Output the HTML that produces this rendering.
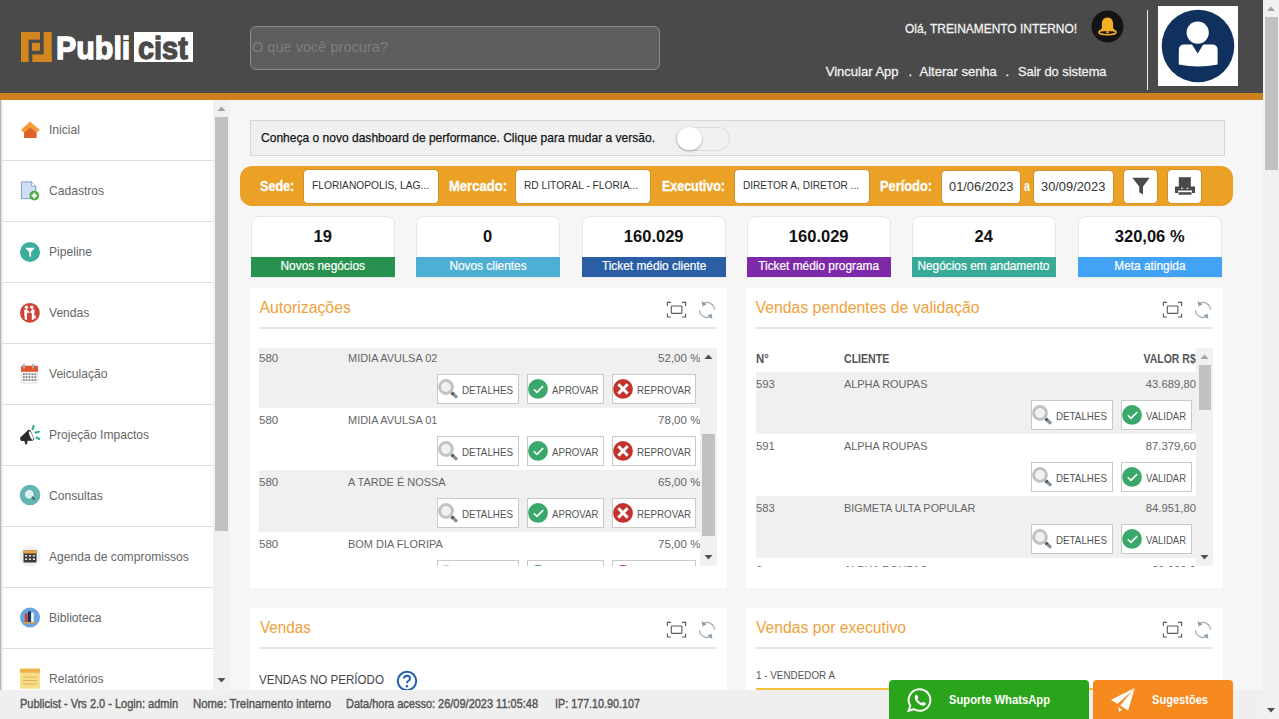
<!DOCTYPE html>
<html><head><meta charset="utf-8"><title>Publicist</title>
<style>
html,body{margin:0;padding:0;}
body{width:1279px;height:719px;overflow:hidden;position:relative;background:#f6f6f6;font-family:'Liberation Sans', sans-serif;}
.t{position:absolute;white-space:nowrap;}
svg{display:block;}
</style></head><body>
<div style="position:absolute;left:0px;top:0px;width:1263px;height:93px;background:#4a4a4a;"></div><div style="position:absolute;left:0px;top:93px;width:1263px;height:7px;background:#ce801e;"></div><svg style="position:absolute;left:21px;top:32px;" width="31" height="30" viewBox="0 0 31 30"><g fill="#d5871f">
<rect x="0" y="0" width="19" height="7.6"/><rect x="0" y="0" width="7.6" height="30"/>
<rect x="11" y="10.8" width="8" height="7.9"/>
<rect x="22.7" y="0" width="8" height="30"/><rect x="11.3" y="22.5" width="19.4" height="7.5"/></g></svg><div class="t" style="left:56.20px;top:27.90px;font-size:32px;line-height:40px;color:#ffffff;font-weight:700;transform:scaleX(0.9499);transform-origin:left center;-webkit-text-stroke:1.3px #ffffff;">Publi</div><div style="position:absolute;left:134px;top:32px;width:59px;height:30px;background:#ffffff;"></div><div class="t" style="left:138.30px;top:27.90px;font-size:32px;line-height:40px;color:#4a4a4a;font-weight:700;transform:scaleX(0.9031);transform-origin:left center;-webkit-text-stroke:1.3px #4a4a4a;">cist</div><div style="position:absolute;left:250px;top:26px;width:408px;height:42px;background:#5e5e5e;border:1px solid #8c8c8c;border-radius:6px;"></div><div class="t" style="left:252.00px;top:37.32px;font-size:15.5px;line-height:19px;color:#7c7c7c;transform:scaleX(0.9394);transform-origin:left center;">O que você procura?</div><div class="t" style="left:904.60px;top:21.12px;font-size:13.2px;line-height:16px;color:#f2f2f2;transform:scaleX(0.9051);transform-origin:left center;-webkit-text-stroke:0.3px #f2f2f2;">Olá, TREINAMENTO INTERNO!</div><svg style="position:absolute;left:1091px;top:10px;" width="33" height="33" viewBox="0 0 33 33"><circle cx="16.5" cy="16.5" r="16" fill="#141414"/>
<path d="M16.5 7.5c-3.6 0-5.6 2.8-5.6 6.2v4.3l-2.4 3.2h16l-2.4-3.2v-4.3c0-3.4-2-6.2-5.6-6.2z" fill="#f4b021"/>
<ellipse cx="16.5" cy="22.3" rx="8.6" ry="2.4" fill="none" stroke="#f4b021" stroke-width="1.6"/>
<circle cx="16.5" cy="22.3" r="1.2" fill="#f4b021"/></svg><div class="t" style="left:825.80px;top:64.49px;font-size:13px;line-height:16px;color:#f0f0f0;-webkit-text-stroke:0.3px #f0f0f0;">Vincular App</div><div class="t" style="left:908.50px;top:64.49px;font-size:13px;line-height:16px;color:#f0f0f0;-webkit-text-stroke:0.3px #f0f0f0;">.</div><div class="t" style="left:919.50px;top:64.49px;font-size:13px;line-height:16px;color:#f0f0f0;-webkit-text-stroke:0.3px #f0f0f0;">Alterar senha</div><div class="t" style="left:1005.50px;top:64.49px;font-size:13px;line-height:16px;color:#f0f0f0;-webkit-text-stroke:0.3px #f0f0f0;">.</div><div class="t" style="left:1017.50px;top:64.49px;font-size:13px;line-height:16px;color:#f0f0f0;transform:scaleX(0.9878);transform-origin:left center;-webkit-text-stroke:0.3px #f0f0f0;">Sair do sistema</div><div style="position:absolute;left:1146.8px;top:10px;width:1.5px;height:80px;background:#e8e8e8;"></div><div style="position:absolute;left:1158px;top:6px;width:80px;height:80px;background:#ffffff;"></div><svg style="position:absolute;left:1158px;top:6px;" width="80" height="80" viewBox="0 0 80 80"><circle cx="40" cy="40" r="36.3" fill="#10305e"/>
<circle cx="39.7" cy="26.6" r="11.1" fill="#fff"/>
<path d="M20.8 44 Q20.8 38.5 26.3 38.5 H34 L39.7 47.5 L45.3 38.5 H54.1 Q59.6 38.5 59.6 44 V58.6 Q40 62.6 20.8 58.6 z" fill="#fff"/></svg><div style="position:absolute;left:1263px;top:0px;width:16px;height:719px;background:#f1f1f1;"></div><div style="position:absolute;left:1265px;top:17px;width:13px;height:153px;background:#c1c1c1;"></div><svg style="position:absolute;left:1263px;top:0px;" width="16" height="17" viewBox="0 0 16 17"><path d="M4 11 L8 6.5 L12 11 z" fill="#a3a3a3"/></svg><svg style="position:absolute;left:1263px;top:702px;" width="16" height="17" viewBox="0 0 16 17"><path d="M4 6 L8 10.5 L12 6 z" fill="#505050"/></svg><div style="position:absolute;left:0px;top:100px;width:213px;height:590px;background:#ffffff;"></div><div style="position:absolute;left:0px;top:100px;width:3px;height:590px;background:linear-gradient(90deg,#b0b0b0 0px,#b8b8b8 1px,#e2e4e6 1.5px,#eef0f1 2.5px,#ffffff 3px);"></div><div class="t" style="left:49.00px;top:122.13px;font-size:12.6px;line-height:16px;color:#666666;transform:scaleX(0.96);transform-origin:left center;">Inicial</div><div style="position:absolute;left:2px;top:160px;width:211px;height:1px;background:#dedede;"></div><div class="t" style="left:49.00px;top:183.13px;font-size:12.6px;line-height:16px;color:#666666;transform:scaleX(0.96);transform-origin:left center;">Cadastros</div><div style="position:absolute;left:2px;top:221px;width:211px;height:1px;background:#dedede;"></div><div class="t" style="left:49.00px;top:244.13px;font-size:12.6px;line-height:16px;color:#666666;transform:scaleX(0.96);transform-origin:left center;">Pipeline</div><div style="position:absolute;left:2px;top:282px;width:211px;height:1px;background:#dedede;"></div><div class="t" style="left:49.00px;top:305.13px;font-size:12.6px;line-height:16px;color:#666666;transform:scaleX(0.96);transform-origin:left center;">Vendas</div><div style="position:absolute;left:2px;top:343px;width:211px;height:1px;background:#dedede;"></div><div class="t" style="left:49.00px;top:366.13px;font-size:12.6px;line-height:16px;color:#666666;transform:scaleX(0.96);transform-origin:left center;">Veiculação</div><div style="position:absolute;left:2px;top:404px;width:211px;height:1px;background:#dedede;"></div><div class="t" style="left:49.00px;top:427.13px;font-size:12.6px;line-height:16px;color:#666666;transform:scaleX(0.96);transform-origin:left center;">Projeção Impactos</div><div style="position:absolute;left:2px;top:465px;width:211px;height:1px;background:#dedede;"></div><div class="t" style="left:49.00px;top:488.13px;font-size:12.6px;line-height:16px;color:#666666;transform:scaleX(0.96);transform-origin:left center;">Consultas</div><div style="position:absolute;left:2px;top:526px;width:211px;height:1px;background:#dedede;"></div><div class="t" style="left:49.00px;top:549.13px;font-size:12.6px;line-height:16px;color:#666666;transform:scaleX(0.96);transform-origin:left center;">Agenda de compromissos</div><div style="position:absolute;left:2px;top:587px;width:211px;height:1px;background:#dedede;"></div><div class="t" style="left:49.00px;top:610.13px;font-size:12.6px;line-height:16px;color:#666666;transform:scaleX(0.96);transform-origin:left center;">Biblioteca</div><div style="position:absolute;left:2px;top:648px;width:211px;height:1px;background:#dedede;"></div><div class="t" style="left:49.00px;top:671.13px;font-size:12.6px;line-height:16px;color:#666666;transform:scaleX(0.96);transform-origin:left center;">Relatórios</div><div style="position:absolute;left:213px;top:100px;width:17px;height:590px;background:#f1f1f1;"></div><div style="position:absolute;left:215px;top:117px;width:13px;height:414px;background:#c1c1c1;"></div><svg style="position:absolute;left:213px;top:100px;" width="17" height="17" viewBox="0 0 17 17"><path d="M4.5 11 L8.5 6.5 L12.5 11 z" fill="#a3a3a3"/></svg><svg style="position:absolute;left:213px;top:672px;" width="17" height="17" viewBox="0 0 17 17"><path d="M4.5 6 L8.5 10.5 L12.5 6 z" fill="#505050"/></svg><svg style="position:absolute;left:20px;top:120px;" width="21" height="20" viewBox="0 0 21 20"><path d="M4 12 L10.1 7 L16.6 12 V18 H4 z" fill="#e0622a"/>
<path d="M10.1 1.4 L19.9 10 L16.4 12.6 L10.1 7.4 L3.9 12.6 L0.8 10 z" fill="#f39a3a"/></svg><svg style="position:absolute;left:20px;top:181px;" width="22" height="22" viewBox="0 0 22 22"><path d="M1.4 0.9 H11.6 L15.8 5 V17.6 H1.4 z" fill="#cfe0f4" stroke="#7b9cc8" stroke-width="1"/>
<path d="M11.6 0.9 V5 H15.8" fill="#fff" stroke="#7b9cc8" stroke-width="0.8"/>
<circle cx="14.3" cy="14.6" r="4.9" fill="#52a83e"/><path d="M14.3 11.8 v5.6 M11.5 14.6 h5.6" stroke="#fff" stroke-width="1.9"/></svg><svg style="position:absolute;left:19px;top:241px;" width="22" height="22" viewBox="0 0 22 22"><circle cx="11" cy="11" r="10" fill="#3aae9a"/>
<path d="M6.2 6.8 H15.8 L12.1 11.2 V16 L10.3 15.3 V11.2 z" fill="#fff"/></svg><svg style="position:absolute;left:19px;top:301px;" width="22" height="22" viewBox="0 0 22 22"><circle cx="10.9" cy="11.8" r="9.9" fill="#cc4236"/>
<g fill="#fff"><circle cx="7.4" cy="6.2" r="1.7"/><circle cx="12.8" cy="6.3" r="1.7"/>
<path d="M5.2 9 Q6 8 7.5 8.2 L10.9 11.2 L8 12.2 V18.8 H6 Q5 14 5.2 9 z"/>
<path d="M15.6 9 Q14.8 8 13.3 8.2 L10.9 11.2 L12.8 12.2 V18.8 H14.6 Q15.4 14 15.6 9 z"/>
<rect x="13.6" y="14.6" width="3.2" height="2.8"/></g></svg><svg style="position:absolute;left:20px;top:362px;" width="20" height="23" viewBox="0 0 20 23"><rect x="1.1" y="4" width="16.9" height="17.3" rx="1" fill="#f6f6f6" stroke="#d8d8d8" stroke-width="0.6"/>
<path d="M1.1 5 Q1.1 3.8 2.3 3.8 H16.8 Q18 3.8 18 5 V9.8 H1.1 z" fill="#e4532b"/>
<g fill="#a8c8e0" stroke="#999" stroke-width="0.4"><rect x="3.2" y="1.9" width="1.6" height="4.7" rx="0.7"/><rect x="12.2" y="1.9" width="1.6" height="4.7" rx="0.7"/></g>
<g fill="#777"><rect x="2.9" y="11.399999999999999" width="1.8" height="1.6"/><rect x="5.6" y="11.399999999999999" width="1.8" height="1.6"/><rect x="8.5" y="11.399999999999999" width="1.8" height="1.6"/><rect x="11.5" y="11.399999999999999" width="1.8" height="1.6"/><rect x="14.4" y="11.399999999999999" width="1.8" height="1.6"/><rect x="2.9" y="14.299999999999999" width="1.8" height="1.6"/><rect x="5.6" y="14.299999999999999" width="1.8" height="1.6"/><rect x="8.5" y="14.299999999999999" width="1.8" height="1.6"/><rect x="11.5" y="14.299999999999999" width="1.8" height="1.6"/><rect x="14.4" y="14.299999999999999" width="1.8" height="1.6"/><rect x="2.9" y="17.2" width="1.8" height="1.6"/><rect x="5.6" y="17.2" width="1.8" height="1.6"/><rect x="8.5" y="17.2" width="1.8" height="1.6"/><rect x="11.5" y="17.2" width="1.8" height="1.6"/><rect x="14.4" y="17.2" width="1.8" height="1.6"/></g></svg><svg style="position:absolute;left:19px;top:423px;" width="24" height="24" viewBox="0 0 24 24"><path d="M1.2 14.6 L9.2 7.1 Q10.6 6.2 11.8 8 L14.6 14.6 Q15.5 17.6 13.3 17.7 L2.2 18.1 Q0.6 16.4 1.2 14.6 z" fill="#2a2a2e"/>
<ellipse cx="12" cy="12.6" rx="1.3" ry="4.6" transform="rotate(-22 12 12.6)" fill="#fff"/>
<path d="M5 17.4 L8.4 17.3 L8.2 21.3 L6.6 21.5 z" fill="#2a2a2e"/>
<g stroke="#2bb096" stroke-width="2.2" stroke-linecap="round"><path d="M14.6 3 L13.7 6"/><path d="M16.6 9.6 L19.8 8.8"/><path d="M17.6 14.6 L20.2 15.9"/></g></svg><svg style="position:absolute;left:19px;top:484px;" width="22" height="22" viewBox="0 0 22 22"><circle cx="11" cy="11" r="10.3" fill="#62b5b3"/>
<circle cx="10.3" cy="10.3" r="3.6" fill="#d8ecec" stroke="#f4f4f4" stroke-width="1.3"/><path d="M12.9 12.9 L15.6 15.6" stroke="#555" stroke-width="1.6"/></svg><svg style="position:absolute;left:19px;top:545px;" width="22" height="22" viewBox="0 0 22 22"><circle cx="11" cy="11" r="10.5" fill="#f0f0f0"/>
<rect x="4.5" y="5.5" width="13" height="12" rx="1" fill="#3a3a3a"/><rect x="4.5" y="5.5" width="13" height="3" fill="#f0a23a"/>
<g fill="#ddd"><rect x="6" y="10" width="2.2" height="1.6"/><rect x="9.9" y="10" width="2.2" height="1.6"/><rect x="13.8" y="10" width="2.2" height="1.6"/><rect x="6" y="13.4" width="2.2" height="1.6"/><rect x="9.9" y="13.4" width="2.2" height="1.6"/><rect x="13.8" y="13.4" width="2.2" height="1.6"/></g></svg><svg style="position:absolute;left:19px;top:606px;" width="22" height="22" viewBox="0 0 22 22"><circle cx="11" cy="11.5" r="10" fill="#6aa6dc"/>
<rect x="5.8" y="7.5" width="2.8" height="8.5" fill="#c8423a"/><rect x="8.9" y="5.5" width="3" height="10.5" fill="#1f2f4f"/><rect x="12.2" y="6.5" width="2.6" height="9.5" fill="#f4f4f4"/><rect x="5" y="16" width="11.5" height="1.4" fill="#e89a3a"/></svg><svg style="position:absolute;left:20px;top:668px;" width="21" height="21" viewBox="0 0 21 21"><rect x="0" y="0.7" width="20" height="20" fill="#f6de86"/><rect x="0" y="0.7" width="20" height="4" fill="#efb04a"/>
<g stroke="#e0a85a" stroke-width="0.9"><path d="M3 9 H17 M3 12.5 H17 M3 16 H17"/></g></svg><div style="position:absolute;left:250px;top:120px;width:973px;height:34px;background:#f0f0f0;border:1px solid #d6d6d6;"></div><div class="t" style="left:261.00px;top:130.13px;font-size:12.6px;line-height:16px;color:#151515;transform:scaleX(0.9555);transform-origin:left center;-webkit-text-stroke:0.25px #151515;">Conheça o novo dashboard de performance. Clique para mudar a versão.</div><div style="position:absolute;left:676px;top:127px;width:52px;height:22px;background:#f1f1f1;border:1px solid #dcdcdc;border-radius:12px;"></div><div style="position:absolute;left:677px;top:127.4px;width:24.5px;height:23px;background:#fff;border-radius:50%;box-shadow:0 1px 2.5px rgba(0,0,0,0.3);"></div><div style="position:absolute;left:240px;top:166px;width:993px;height:40px;background:#eba126;border-radius:12px;"></div><div class="t" style="left:260.00px;top:176.12px;font-size:15.5px;line-height:19px;color:#ffffff;font-weight:700;transform:scaleX(0.8124);transform-origin:left center;-webkit-text-stroke:0.3px #fff;">Sede:</div><div class="t" style="left:449.00px;top:176.12px;font-size:15.5px;line-height:19px;color:#ffffff;font-weight:700;transform:scaleX(0.8417);transform-origin:left center;-webkit-text-stroke:0.3px #fff;">Mercado:</div><div class="t" style="left:661.70px;top:176.12px;font-size:15.5px;line-height:19px;color:#ffffff;font-weight:700;transform:scaleX(0.8037);transform-origin:left center;-webkit-text-stroke:0.3px #fff;">Executivo:</div><div class="t" style="left:880.00px;top:176.12px;font-size:15.5px;line-height:19px;color:#ffffff;font-weight:700;transform:scaleX(0.8270);transform-origin:left center;-webkit-text-stroke:0.3px #fff;">Período:</div><div class="t" style="left:1024.00px;top:176.12px;font-size:15.5px;line-height:19px;color:#ffffff;font-weight:700;transform:scaleX(0.6957);transform-origin:left center;">a</div><div style="position:absolute;left:303.7px;top:169.5px;width:134.8px;height:33.80000000000001px;background:#fff;border-radius:4px;box-shadow:0 0 0 1px rgba(160,120,60,0.35);"></div><div style="position:absolute;left:515.5px;top:169.5px;width:134.89999999999998px;height:33.80000000000001px;background:#fff;border-radius:4px;box-shadow:0 0 0 1px rgba(160,120,60,0.35);"></div><div style="position:absolute;left:735px;top:169.5px;width:134px;height:33.80000000000001px;background:#fff;border-radius:4px;box-shadow:0 0 0 1px rgba(160,120,60,0.35);"></div><div style="position:absolute;left:941.7px;top:170.6px;width:78.69999999999993px;height:32.70000000000002px;background:#fff;border-radius:4px;box-shadow:0 0 0 1px rgba(160,120,60,0.35);"></div><div style="position:absolute;left:1034.4px;top:170.6px;width:78.89999999999986px;height:32.70000000000002px;background:#fff;border-radius:4px;box-shadow:0 0 0 1px rgba(160,120,60,0.35);"></div><div style="position:absolute;left:1124.3px;top:169.5px;width:33.100000000000136px;height:33.0px;background:#fff;border-radius:4px;box-shadow:0 0 0 1px rgba(160,120,60,0.35);"></div><div style="position:absolute;left:1168.2px;top:169.5px;width:33.299999999999955px;height:33.0px;background:#fff;border-radius:4px;box-shadow:0 0 0 1px rgba(160,120,60,0.35);"></div><div class="t" style="left:311.50px;top:178.31px;font-size:11.5px;line-height:14px;color:#333333;transform:scaleX(0.8887);transform-origin:left center;">FLORIANOPOLIS, LAG...</div><div class="t" style="left:523.70px;top:178.31px;font-size:11.5px;line-height:14px;color:#333333;transform:scaleX(0.8875);transform-origin:left center;">RD LITORAL - FLORIA...</div><div class="t" style="left:742.50px;top:178.31px;font-size:11.5px;line-height:14px;color:#333333;transform:scaleX(0.8755);transform-origin:left center;">DIRETOR A, DIRETOR ...</div><div class="t" style="left:948.70px;top:178.66px;font-size:12.5px;line-height:16px;color:#333333;transform:scaleX(1.0278);transform-origin:left center;">01/06/2023</div><div class="t" style="left:1041.30px;top:178.66px;font-size:12.5px;line-height:16px;color:#333333;transform:scaleX(1.0278);transform-origin:left center;">30/09/2023</div><svg style="position:absolute;left:1124px;top:169px;" width="34" height="34" viewBox="0 0 34 34"><path d="M8.3 8.8 H25.7 L19 17.6 V25.6 L15.2 23.2 V17.6 z" fill="#4a4a4a"/></svg><svg style="position:absolute;left:1168px;top:169px;" width="34" height="34" viewBox="0 0 34 34"><rect x="10.8" y="8.2" width="12" height="10" fill="#4a4a4a"/>
<path d="M7 17.5 H27 V24 H24 V21.5 H10 V24 H7 z" fill="#4a4a4a"/><rect x="10.5" y="23.2" width="13" height="2.5" fill="#4a4a4a"/>
<rect x="13" y="18.8" width="2" height="1" fill="#fff"/><rect x="18.5" y="18.8" width="2" height="1" fill="#fff"/></svg><div style="position:absolute;left:250.5px;top:216px;width:142.5px;height:60px;background:#fff;border:1px solid #e6e8e9;border-radius:8px 8px 0 0;"></div><div style="position:absolute;left:251px;top:257px;width:143.5px;height:20px;background:#279250;"></div><div class="t" style="left:313.52px;top:226.27px;font-size:16.5px;line-height:21px;color:#111111;font-weight:700;">19</div><div class="t" style="left:278.95px;top:259.43px;font-size:12.3px;line-height:15px;color:#ffffff;-webkit-text-stroke:0.2px #fff;transform:scaleX(0.965);">Novos negócios</div><div style="position:absolute;left:415.5px;top:216px;width:142.5px;height:60px;background:#fff;border:1px solid #e6e8e9;border-radius:8px 8px 0 0;"></div><div style="position:absolute;left:416px;top:257px;width:143.5px;height:20px;background:#4eaed4;"></div><div class="t" style="left:483.11px;top:226.27px;font-size:16.5px;line-height:21px;color:#111111;font-weight:700;">0</div><div class="t" style="left:447.72px;top:259.43px;font-size:12.3px;line-height:15px;color:#ffffff;-webkit-text-stroke:0.2px #fff;transform:scaleX(0.965);">Novos clientes</div><div style="position:absolute;left:581.5px;top:216px;width:142.5px;height:60px;background:#fff;border:1px solid #e6e8e9;border-radius:8px 8px 0 0;"></div><div style="position:absolute;left:582px;top:257px;width:143.5px;height:20px;background:#2a5ea5;"></div><div class="t" style="left:623.87px;top:226.27px;font-size:16.5px;line-height:21px;color:#111111;font-weight:700;">160.029</div><div class="t" style="left:599.59px;top:259.43px;font-size:12.3px;line-height:15px;color:#ffffff;-webkit-text-stroke:0.2px #fff;transform:scaleX(0.965);">Ticket médio cliente</div><div style="position:absolute;left:746.5px;top:216px;width:142.5px;height:60px;background:#fff;border:1px solid #e6e8e9;border-radius:8px 8px 0 0;"></div><div style="position:absolute;left:747px;top:257px;width:143.5px;height:20px;background:#7e2aa8;"></div><div class="t" style="left:788.87px;top:226.27px;font-size:16.5px;line-height:21px;color:#111111;font-weight:700;">160.029</div><div class="t" style="left:756.05px;top:259.43px;font-size:12.3px;line-height:15px;color:#ffffff;-webkit-text-stroke:0.2px #fff;transform:scaleX(0.965);">Ticket médio programa</div><div style="position:absolute;left:911.5px;top:216px;width:142.5px;height:60px;background:#fff;border:1px solid #e6e8e9;border-radius:8px 8px 0 0;"></div><div style="position:absolute;left:912px;top:257px;width:143.5px;height:20px;background:#38aa98;"></div><div class="t" style="left:974.52px;top:226.27px;font-size:16.5px;line-height:21px;color:#111111;font-weight:700;">24</div><div class="t" style="left:915.34px;top:259.43px;font-size:12.3px;line-height:15px;color:#ffffff;-webkit-text-stroke:0.2px #fff;transform:scaleX(0.965);">Negócios em andamento</div><div style="position:absolute;left:1077.5px;top:216px;width:142.5px;height:60px;background:#fff;border:1px solid #e6e8e9;border-radius:8px 8px 0 0;"></div><div style="position:absolute;left:1078px;top:257px;width:143.5px;height:20px;background:#42a2f5;"></div><div class="t" style="left:1114.83px;top:226.27px;font-size:16.5px;line-height:21px;color:#111111;font-weight:700;">320,06 %</div><div class="t" style="left:1112.78px;top:259.43px;font-size:12.3px;line-height:15px;color:#ffffff;-webkit-text-stroke:0.2px #fff;transform:scaleX(0.965);">Meta atingida</div><div style="position:absolute;left:250px;top:288px;width:477px;height:300px;background:#ffffff;"></div><div class="t" style="left:259.50px;top:297.52px;font-size:15.8px;line-height:20px;color:#f0a13a;">Autorizações</div><div style="position:absolute;left:259px;top:327px;width:458px;height:2px;background:#e4e8ea;"></div><svg style="position:absolute;left:666px;top:301px;" width="22" height="18" viewBox="0 0 22 18"><g fill="none" stroke="#5a5a5a" stroke-width="1.15">
<path d="M1.4 5 V1.4 H5"/><path d="M16 1.4 H19.6 V5"/><path d="M1.4 12.4 V16 H5"/><path d="M16 16 H19.6 V12.4"/>
<rect x="5.3" y="5" width="10.6" height="7.4" rx="0.8"/></g></svg><svg style="position:absolute;left:698px;top:300px;" width="18" height="20" viewBox="0 0 18 20"><g fill="none" stroke="#a3acb4" stroke-width="1.2">
<path d="M5.83 3.2 A7.5 7.5 0 0 1 16.5 10"/><path d="M1.5 10 A7.5 7.5 0 0 0 12.17 16.8"/></g>
<path d="M3.6 1 L4.5 6.4 L8.6 4.2 z" fill="#8d9eac"/><path d="M14.4 19 L13.5 13.6 L9.4 15.8 z" fill="#8d9eac"/></svg><div style="position:absolute;left:746px;top:288px;width:477px;height:300px;background:#ffffff;"></div><div class="t" style="left:755.50px;top:297.52px;font-size:15.8px;line-height:20px;color:#f0a13a;">Vendas pendentes de validação</div><div style="position:absolute;left:755px;top:327px;width:458px;height:2px;background:#e4e8ea;"></div><svg style="position:absolute;left:1162px;top:301px;" width="22" height="18" viewBox="0 0 22 18"><g fill="none" stroke="#5a5a5a" stroke-width="1.15">
<path d="M1.4 5 V1.4 H5"/><path d="M16 1.4 H19.6 V5"/><path d="M1.4 12.4 V16 H5"/><path d="M16 16 H19.6 V12.4"/>
<rect x="5.3" y="5" width="10.6" height="7.4" rx="0.8"/></g></svg><svg style="position:absolute;left:1194px;top:300px;" width="18" height="20" viewBox="0 0 18 20"><g fill="none" stroke="#a3acb4" stroke-width="1.2">
<path d="M5.83 3.2 A7.5 7.5 0 0 1 16.5 10"/><path d="M1.5 10 A7.5 7.5 0 0 0 12.17 16.8"/></g>
<path d="M3.6 1 L4.5 6.4 L8.6 4.2 z" fill="#8d9eac"/><path d="M14.4 19 L13.5 13.6 L9.4 15.8 z" fill="#8d9eac"/></svg><div style="position:absolute;left:250px;top:608px;width:477px;height:111px;background:#ffffff;"></div><div class="t" style="left:259.50px;top:617.52px;font-size:15.8px;line-height:20px;color:#f0a13a;transform:scaleX(0.9674);transform-origin:left center;">Vendas</div><div style="position:absolute;left:259px;top:647px;width:458px;height:2px;background:#e4e8ea;"></div><svg style="position:absolute;left:666px;top:621px;" width="22" height="18" viewBox="0 0 22 18"><g fill="none" stroke="#5a5a5a" stroke-width="1.15">
<path d="M1.4 5 V1.4 H5"/><path d="M16 1.4 H19.6 V5"/><path d="M1.4 12.4 V16 H5"/><path d="M16 16 H19.6 V12.4"/>
<rect x="5.3" y="5" width="10.6" height="7.4" rx="0.8"/></g></svg><svg style="position:absolute;left:698px;top:620px;" width="18" height="20" viewBox="0 0 18 20"><g fill="none" stroke="#a3acb4" stroke-width="1.2">
<path d="M5.83 3.2 A7.5 7.5 0 0 1 16.5 10"/><path d="M1.5 10 A7.5 7.5 0 0 0 12.17 16.8"/></g>
<path d="M3.6 1 L4.5 6.4 L8.6 4.2 z" fill="#8d9eac"/><path d="M14.4 19 L13.5 13.6 L9.4 15.8 z" fill="#8d9eac"/></svg><div style="position:absolute;left:746px;top:608px;width:477px;height:111px;background:#ffffff;"></div><div class="t" style="left:755.50px;top:617.52px;font-size:15.8px;line-height:20px;color:#f0a13a;transform:scaleX(0.9930);transform-origin:left center;">Vendas por executivo</div><div style="position:absolute;left:755px;top:647px;width:458px;height:2px;background:#e4e8ea;"></div><svg style="position:absolute;left:1162px;top:621px;" width="22" height="18" viewBox="0 0 22 18"><g fill="none" stroke="#5a5a5a" stroke-width="1.15">
<path d="M1.4 5 V1.4 H5"/><path d="M16 1.4 H19.6 V5"/><path d="M1.4 12.4 V16 H5"/><path d="M16 16 H19.6 V12.4"/>
<rect x="5.3" y="5" width="10.6" height="7.4" rx="0.8"/></g></svg><svg style="position:absolute;left:1194px;top:620px;" width="18" height="20" viewBox="0 0 18 20"><g fill="none" stroke="#a3acb4" stroke-width="1.2">
<path d="M5.83 3.2 A7.5 7.5 0 0 1 16.5 10"/><path d="M1.5 10 A7.5 7.5 0 0 0 12.17 16.8"/></g>
<path d="M3.6 1 L4.5 6.4 L8.6 4.2 z" fill="#8d9eac"/><path d="M14.4 19 L13.5 13.6 L9.4 15.8 z" fill="#8d9eac"/></svg><div style="position:absolute;left:259px;top:348px;width:458px;height:218px;overflow:hidden;"><div style="position:absolute;left:0px;top:-2px;width:441px;height:62px;background:#f0f0f0;"></div><div class="t" style="left:0.00px;top:2.98px;font-size:11.3px;line-height:14px;color:#666666;transform:scaleX(1.0234);transform-origin:left center;">580</div><div class="t" style="left:88.70px;top:2.98px;font-size:11.3px;line-height:14px;color:#666666;transform:scaleX(0.97);transform-origin:left center;">MIDIA AVULSA 02</div><div class="t" style="left:399.53px;top:2.98px;font-size:11.3px;line-height:14px;color:#666666;transform:scaleX(1.0225);transform-origin:right center;">52,00 %</div><div style="position:absolute;left:178px;top:26.3px;width:80px;height:27.5px;background:#fff;border:1px solid #c9c9c9;"></div><svg style="position:absolute;left:179px;top:29.3px;" width="24" height="24" viewBox="0 0 24 24"><circle cx="8" cy="10" r="6.4" fill="#f1f1f1" stroke="#c2c2c2" stroke-width="3"/>
<path d="M13.9 15.9 L19 20.6" stroke="#7f909e" stroke-width="3.3"/><path d="M13.6 15.6 L15.3 17.2" stroke="#555" stroke-width="3.3"/></svg><div class="t" style="left:203.00px;top:35.11px;font-size:11.2px;line-height:14px;color:#555555;transform:scaleX(0.8758);transform-origin:left center;">DETALHES</div><div style="position:absolute;left:268px;top:26.3px;width:75px;height:27.5px;background:#fff;border:1px solid #c9c9c9;"></div><svg style="position:absolute;left:269px;top:29.3px;" width="24" height="24" viewBox="0 0 24 24"><circle cx="10" cy="11.9" r="9.9" fill="#3aa86a"/>
<path d="M5.8 12.3 L8.9 15.4 L15.2 9.1" fill="none" stroke="#fff" stroke-width="1.5"/></svg><div class="t" style="left:293.00px;top:35.11px;font-size:11.2px;line-height:14px;color:#555555;transform:scaleX(0.8629);transform-origin:left center;">APROVAR</div><div style="position:absolute;left:353px;top:26.3px;width:82px;height:27.5px;background:#fff;border:1px solid #c9c9c9;"></div><svg style="position:absolute;left:354px;top:29.3px;" width="24" height="24" viewBox="0 0 24 24"><circle cx="10" cy="11.9" r="9.9" fill="#c4322e"/>
<path d="M5.3 7.2 L14.7 16.6 M14.7 7.2 L5.3 16.6" stroke="#fff" stroke-width="2.9"/></svg><div class="t" style="left:378.00px;top:35.11px;font-size:11.2px;line-height:14px;color:#555555;transform:scaleX(0.8714);transform-origin:left center;">REPROVAR</div><div class="t" style="left:0.00px;top:64.98px;font-size:11.3px;line-height:14px;color:#666666;transform:scaleX(1.0234);transform-origin:left center;">580</div><div class="t" style="left:88.70px;top:64.98px;font-size:11.3px;line-height:14px;color:#666666;transform:scaleX(0.97);transform-origin:left center;">MIDIA AVULSA 01</div><div class="t" style="left:399.53px;top:64.98px;font-size:11.3px;line-height:14px;color:#666666;transform:scaleX(1.0225);transform-origin:right center;">78,00 %</div><div style="position:absolute;left:178px;top:88.3px;width:80px;height:27.5px;background:#fff;border:1px solid #c9c9c9;"></div><svg style="position:absolute;left:179px;top:91.3px;" width="24" height="24" viewBox="0 0 24 24"><circle cx="8" cy="10" r="6.4" fill="#f1f1f1" stroke="#c2c2c2" stroke-width="3"/>
<path d="M13.9 15.9 L19 20.6" stroke="#7f909e" stroke-width="3.3"/><path d="M13.6 15.6 L15.3 17.2" stroke="#555" stroke-width="3.3"/></svg><div class="t" style="left:203.00px;top:97.11px;font-size:11.2px;line-height:14px;color:#555555;transform:scaleX(0.8758);transform-origin:left center;">DETALHES</div><div style="position:absolute;left:268px;top:88.3px;width:75px;height:27.5px;background:#fff;border:1px solid #c9c9c9;"></div><svg style="position:absolute;left:269px;top:91.3px;" width="24" height="24" viewBox="0 0 24 24"><circle cx="10" cy="11.9" r="9.9" fill="#3aa86a"/>
<path d="M5.8 12.3 L8.9 15.4 L15.2 9.1" fill="none" stroke="#fff" stroke-width="1.5"/></svg><div class="t" style="left:293.00px;top:97.11px;font-size:11.2px;line-height:14px;color:#555555;transform:scaleX(0.8629);transform-origin:left center;">APROVAR</div><div style="position:absolute;left:353px;top:88.3px;width:82px;height:27.5px;background:#fff;border:1px solid #c9c9c9;"></div><svg style="position:absolute;left:354px;top:91.3px;" width="24" height="24" viewBox="0 0 24 24"><circle cx="10" cy="11.9" r="9.9" fill="#c4322e"/>
<path d="M5.3 7.2 L14.7 16.6 M14.7 7.2 L5.3 16.6" stroke="#fff" stroke-width="2.9"/></svg><div class="t" style="left:378.00px;top:97.11px;font-size:11.2px;line-height:14px;color:#555555;transform:scaleX(0.8714);transform-origin:left center;">REPROVAR</div><div style="position:absolute;left:0px;top:122px;width:441px;height:62px;background:#f0f0f0;"></div><div class="t" style="left:0.00px;top:126.98px;font-size:11.3px;line-height:14px;color:#666666;transform:scaleX(1.0234);transform-origin:left center;">580</div><div class="t" style="left:88.70px;top:126.98px;font-size:11.3px;line-height:14px;color:#666666;transform:scaleX(0.97);transform-origin:left center;">A TARDE É NOSSA</div><div class="t" style="left:399.53px;top:126.98px;font-size:11.3px;line-height:14px;color:#666666;transform:scaleX(1.0225);transform-origin:right center;">65,00 %</div><div style="position:absolute;left:178px;top:150.3px;width:80px;height:27.5px;background:#fff;border:1px solid #c9c9c9;"></div><svg style="position:absolute;left:179px;top:153.3px;" width="24" height="24" viewBox="0 0 24 24"><circle cx="8" cy="10" r="6.4" fill="#f1f1f1" stroke="#c2c2c2" stroke-width="3"/>
<path d="M13.9 15.9 L19 20.6" stroke="#7f909e" stroke-width="3.3"/><path d="M13.6 15.6 L15.3 17.2" stroke="#555" stroke-width="3.3"/></svg><div class="t" style="left:203.00px;top:159.11px;font-size:11.2px;line-height:14px;color:#555555;transform:scaleX(0.8758);transform-origin:left center;">DETALHES</div><div style="position:absolute;left:268px;top:150.3px;width:75px;height:27.5px;background:#fff;border:1px solid #c9c9c9;"></div><svg style="position:absolute;left:269px;top:153.3px;" width="24" height="24" viewBox="0 0 24 24"><circle cx="10" cy="11.9" r="9.9" fill="#3aa86a"/>
<path d="M5.8 12.3 L8.9 15.4 L15.2 9.1" fill="none" stroke="#fff" stroke-width="1.5"/></svg><div class="t" style="left:293.00px;top:159.11px;font-size:11.2px;line-height:14px;color:#555555;transform:scaleX(0.8629);transform-origin:left center;">APROVAR</div><div style="position:absolute;left:353px;top:150.3px;width:82px;height:27.5px;background:#fff;border:1px solid #c9c9c9;"></div><svg style="position:absolute;left:354px;top:153.3px;" width="24" height="24" viewBox="0 0 24 24"><circle cx="10" cy="11.9" r="9.9" fill="#c4322e"/>
<path d="M5.3 7.2 L14.7 16.6 M14.7 7.2 L5.3 16.6" stroke="#fff" stroke-width="2.9"/></svg><div class="t" style="left:378.00px;top:159.11px;font-size:11.2px;line-height:14px;color:#555555;transform:scaleX(0.8714);transform-origin:left center;">REPROVAR</div><div class="t" style="left:0.00px;top:188.98px;font-size:11.3px;line-height:14px;color:#666666;transform:scaleX(1.0234);transform-origin:left center;">580</div><div class="t" style="left:88.70px;top:188.98px;font-size:11.3px;line-height:14px;color:#666666;transform:scaleX(0.97);transform-origin:left center;">BOM DIA FLORIPA</div><div class="t" style="left:399.53px;top:188.98px;font-size:11.3px;line-height:14px;color:#666666;transform:scaleX(1.0225);transform-origin:right center;">75,00 %</div><div style="position:absolute;left:178px;top:212.3px;width:80px;height:27.5px;background:#fff;border:1px solid #c9c9c9;"></div><svg style="position:absolute;left:179px;top:215.3px;" width="24" height="24" viewBox="0 0 24 24"><circle cx="8" cy="10" r="6.4" fill="#f1f1f1" stroke="#c2c2c2" stroke-width="3"/>
<path d="M13.9 15.9 L19 20.6" stroke="#7f909e" stroke-width="3.3"/><path d="M13.6 15.6 L15.3 17.2" stroke="#555" stroke-width="3.3"/></svg><div class="t" style="left:203.00px;top:221.11px;font-size:11.2px;line-height:14px;color:#555555;transform:scaleX(0.8758);transform-origin:left center;">DETALHES</div><div style="position:absolute;left:268px;top:212.3px;width:75px;height:27.5px;background:#fff;border:1px solid #c9c9c9;"></div><svg style="position:absolute;left:269px;top:215.3px;" width="24" height="24" viewBox="0 0 24 24"><circle cx="10" cy="11.9" r="9.9" fill="#3aa86a"/>
<path d="M5.8 12.3 L8.9 15.4 L15.2 9.1" fill="none" stroke="#fff" stroke-width="1.5"/></svg><div class="t" style="left:293.00px;top:221.11px;font-size:11.2px;line-height:14px;color:#555555;transform:scaleX(0.8629);transform-origin:left center;">APROVAR</div><div style="position:absolute;left:353px;top:212.3px;width:82px;height:27.5px;background:#fff;border:1px solid #c9c9c9;"></div><svg style="position:absolute;left:354px;top:215.3px;" width="24" height="24" viewBox="0 0 24 24"><circle cx="10" cy="11.9" r="9.9" fill="#c4322e"/>
<path d="M5.3 7.2 L14.7 16.6 M14.7 7.2 L5.3 16.6" stroke="#fff" stroke-width="2.9"/></svg><div class="t" style="left:378.00px;top:221.11px;font-size:11.2px;line-height:14px;color:#555555;transform:scaleX(0.8714);transform-origin:left center;">REPROVAR</div><div style="position:absolute;left:441px;top:0px;width:17px;height:218px;background:#f1f1f1;"></div><div style="position:absolute;left:443px;top:86px;width:13px;height:102px;background:#c1c1c1;"></div><svg style="position:absolute;left:441px;top:0px;" width="17" height="17" viewBox="0 0 17 17"><path d="M4.5 11 L8.5 6.5 L12.5 11 z" fill="#505050"/></svg><svg style="position:absolute;left:441px;top:201px;" width="17" height="17" viewBox="0 0 17 17"><path d="M4.5 6 L8.5 10.5 L12.5 6 z" fill="#505050"/></svg></div><div class="t" style="left:756.00px;top:352.07px;font-size:12.2px;line-height:15px;color:#555555;font-weight:700;transform:scaleX(0.9279);transform-origin:left center;">N°</div><div class="t" style="left:844.00px;top:352.07px;font-size:12.2px;line-height:15px;color:#555555;font-weight:700;transform:scaleX(0.8688);transform-origin:left center;">CLIENTE</div><div class="t" style="left:1135.28px;top:352.07px;font-size:12.2px;line-height:15px;color:#555555;font-weight:700;transform:scaleX(0.8613);transform-origin:right center;">VALOR R$</div><div style="position:absolute;left:756px;top:372px;width:440px;height:195px;overflow:hidden;"><div style="position:absolute;left:0px;top:0px;width:440px;height:62px;background:#f0f0f0;"></div><div class="t" style="left:0.00px;top:4.58px;font-size:11.3px;line-height:14px;color:#666666;">593</div><div class="t" style="left:88.00px;top:4.58px;font-size:11.3px;line-height:14px;color:#666666;transform:scaleX(0.965);transform-origin:left center;">ALPHA ROUPAS</div><div class="t" style="left:389.73px;top:4.58px;font-size:11.3px;line-height:14px;color:#666666;">43.689,80</div><div style="position:absolute;left:275px;top:28px;width:80px;height:27.5px;background:#fff;border:1px solid #c9c9c9;"></div><svg style="position:absolute;left:276px;top:31px;" width="24" height="24" viewBox="0 0 24 24"><circle cx="8" cy="10" r="6.4" fill="#f1f1f1" stroke="#c2c2c2" stroke-width="3"/>
<path d="M13.9 15.9 L19 20.6" stroke="#7f909e" stroke-width="3.3"/><path d="M13.6 15.6 L15.3 17.2" stroke="#555" stroke-width="3.3"/></svg><div class="t" style="left:300.00px;top:36.81px;font-size:11.2px;line-height:14px;color:#555555;transform:scaleX(0.8758);transform-origin:left center;">DETALHES</div><div style="position:absolute;left:365px;top:28px;width:69px;height:27.5px;background:#fff;border:1px solid #c9c9c9;"></div><svg style="position:absolute;left:366px;top:31px;" width="24" height="24" viewBox="0 0 24 24"><circle cx="10" cy="11.9" r="9.9" fill="#3aa86a"/>
<path d="M5.8 12.3 L8.9 15.4 L15.2 9.1" fill="none" stroke="#fff" stroke-width="1.5"/></svg><div class="t" style="left:390.00px;top:36.81px;font-size:11.2px;line-height:14px;color:#555555;transform:scaleX(0.8502);transform-origin:left center;">VALIDAR</div><div class="t" style="left:0.00px;top:66.58px;font-size:11.3px;line-height:14px;color:#666666;">591</div><div class="t" style="left:88.00px;top:66.58px;font-size:11.3px;line-height:14px;color:#666666;transform:scaleX(0.965);transform-origin:left center;">ALPHA ROUPAS</div><div class="t" style="left:389.73px;top:66.58px;font-size:11.3px;line-height:14px;color:#666666;">87.379,60</div><div style="position:absolute;left:275px;top:90px;width:80px;height:27.5px;background:#fff;border:1px solid #c9c9c9;"></div><svg style="position:absolute;left:276px;top:93px;" width="24" height="24" viewBox="0 0 24 24"><circle cx="8" cy="10" r="6.4" fill="#f1f1f1" stroke="#c2c2c2" stroke-width="3"/>
<path d="M13.9 15.9 L19 20.6" stroke="#7f909e" stroke-width="3.3"/><path d="M13.6 15.6 L15.3 17.2" stroke="#555" stroke-width="3.3"/></svg><div class="t" style="left:300.00px;top:98.81px;font-size:11.2px;line-height:14px;color:#555555;transform:scaleX(0.8758);transform-origin:left center;">DETALHES</div><div style="position:absolute;left:365px;top:90px;width:69px;height:27.5px;background:#fff;border:1px solid #c9c9c9;"></div><svg style="position:absolute;left:366px;top:93px;" width="24" height="24" viewBox="0 0 24 24"><circle cx="10" cy="11.9" r="9.9" fill="#3aa86a"/>
<path d="M5.8 12.3 L8.9 15.4 L15.2 9.1" fill="none" stroke="#fff" stroke-width="1.5"/></svg><div class="t" style="left:390.00px;top:98.81px;font-size:11.2px;line-height:14px;color:#555555;transform:scaleX(0.8502);transform-origin:left center;">VALIDAR</div><div style="position:absolute;left:0px;top:124px;width:440px;height:62px;background:#f0f0f0;"></div><div class="t" style="left:0.00px;top:128.58px;font-size:11.3px;line-height:14px;color:#666666;">583</div><div class="t" style="left:88.00px;top:128.58px;font-size:11.3px;line-height:14px;color:#666666;transform:scaleX(0.965);transform-origin:left center;">BIGMETA ULTA POPULAR</div><div class="t" style="left:389.73px;top:128.58px;font-size:11.3px;line-height:14px;color:#666666;">84.951,80</div><div style="position:absolute;left:275px;top:152px;width:80px;height:27.5px;background:#fff;border:1px solid #c9c9c9;"></div><svg style="position:absolute;left:276px;top:155px;" width="24" height="24" viewBox="0 0 24 24"><circle cx="8" cy="10" r="6.4" fill="#f1f1f1" stroke="#c2c2c2" stroke-width="3"/>
<path d="M13.9 15.9 L19 20.6" stroke="#7f909e" stroke-width="3.3"/><path d="M13.6 15.6 L15.3 17.2" stroke="#555" stroke-width="3.3"/></svg><div class="t" style="left:300.00px;top:160.81px;font-size:11.2px;line-height:14px;color:#555555;transform:scaleX(0.8758);transform-origin:left center;">DETALHES</div><div style="position:absolute;left:365px;top:152px;width:69px;height:27.5px;background:#fff;border:1px solid #c9c9c9;"></div><svg style="position:absolute;left:366px;top:155px;" width="24" height="24" viewBox="0 0 24 24"><circle cx="10" cy="11.9" r="9.9" fill="#3aa86a"/>
<path d="M5.8 12.3 L8.9 15.4 L15.2 9.1" fill="none" stroke="#fff" stroke-width="1.5"/></svg><div class="t" style="left:390.00px;top:160.81px;font-size:11.2px;line-height:14px;color:#555555;transform:scaleX(0.8502);transform-origin:left center;">VALIDAR</div><div class="t" style="left:0.00px;top:190.58px;font-size:11.3px;line-height:14px;color:#666666;">6</div><div class="t" style="left:88.00px;top:190.58px;font-size:11.3px;line-height:14px;color:#666666;transform:scaleX(0.965);transform-origin:left center;">ALPHA ROUPAS</div><div class="t" style="left:396.02px;top:190.58px;font-size:11.3px;line-height:14px;color:#666666;">89.000,0</div><div style="position:absolute;left:275px;top:214px;width:80px;height:27.5px;background:#fff;border:1px solid #c9c9c9;"></div><svg style="position:absolute;left:276px;top:217px;" width="24" height="24" viewBox="0 0 24 24"><circle cx="8" cy="10" r="6.4" fill="#f1f1f1" stroke="#c2c2c2" stroke-width="3"/>
<path d="M13.9 15.9 L19 20.6" stroke="#7f909e" stroke-width="3.3"/><path d="M13.6 15.6 L15.3 17.2" stroke="#555" stroke-width="3.3"/></svg><div class="t" style="left:300.00px;top:222.81px;font-size:11.2px;line-height:14px;color:#555555;transform:scaleX(0.8758);transform-origin:left center;">DETALHES</div><div style="position:absolute;left:365px;top:214px;width:69px;height:27.5px;background:#fff;border:1px solid #c9c9c9;"></div><svg style="position:absolute;left:366px;top:217px;" width="24" height="24" viewBox="0 0 24 24"><circle cx="10" cy="11.9" r="9.9" fill="#3aa86a"/>
<path d="M5.8 12.3 L8.9 15.4 L15.2 9.1" fill="none" stroke="#fff" stroke-width="1.5"/></svg><div class="t" style="left:390.00px;top:222.81px;font-size:11.2px;line-height:14px;color:#555555;transform:scaleX(0.8502);transform-origin:left center;">VALIDAR</div></div><div style="position:absolute;left:1196px;top:348px;width:17px;height:218px;background:#f1f1f1;"></div><div style="position:absolute;left:1198.5px;top:365px;width:12.5px;height:44.5px;background:#c1c1c1;"></div><svg style="position:absolute;left:1196px;top:348px;" width="17" height="17" viewBox="0 0 17 17"><path d="M4.5 11 L8.5 6.5 L12.5 11 z" fill="#a3a3a3"/></svg><svg style="position:absolute;left:1196px;top:549px;" width="17" height="17" viewBox="0 0 17 17"><path d="M4.5 6 L8.5 10.5 L12.5 6 z" fill="#505050"/></svg><div class="t" style="left:259.00px;top:671.56px;font-size:12.8px;line-height:16px;color:#444444;transform:scaleX(0.9061);transform-origin:left center;">VENDAS NO PERÍODO</div><svg style="position:absolute;left:396px;top:670px;" width="22" height="22" viewBox="0 0 22 22"><circle cx="11" cy="11" r="9.2" fill="none" stroke="#1f5fae" stroke-width="2"/>
<path d="M8 8.6 Q8 5.8 11 5.8 Q14 5.8 14 8.4 Q14 10 12.2 11 Q11 11.7 11 13.3" fill="none" stroke="#1f5fae" stroke-width="2"/><circle cx="11" cy="16.2" r="1.2" fill="#1f5fae"/></svg><div class="t" style="left:756.00px;top:667.91px;font-size:11.5px;line-height:14px;color:#555555;transform:scaleX(0.8584);transform-origin:left center;">1 - VENDEDOR A</div><div style="position:absolute;left:756px;top:688px;width:457px;height:2px;background:#f3c13a;"></div><div style="position:absolute;left:0px;top:690px;width:1263px;height:29px;background:#efefef;"></div><div class="t" style="left:20.00px;top:695.56px;font-size:12.8px;line-height:16px;color:#585858;transform:scaleX(0.8599);transform-origin:left center;-webkit-text-stroke:0.45px #585858;">Publicist - Vrs 2.0 - Login: admin</div><div class="t" style="left:193.00px;top:695.56px;font-size:12.8px;line-height:16px;color:#585858;transform:scaleX(0.8900);transform-origin:left center;-webkit-text-stroke:0.45px #585858;">Nome: Treinamento interno</div><div class="t" style="left:346.00px;top:695.56px;font-size:12.8px;line-height:16px;color:#585858;transform:scaleX(0.8576);transform-origin:left center;-webkit-text-stroke:0.45px #585858;">Data/hora acesso: 26/09/2023 11:05:48</div><div class="t" style="left:555.00px;top:695.56px;font-size:12.8px;line-height:16px;color:#585858;transform:scaleX(0.8412);transform-origin:left center;-webkit-text-stroke:0.45px #585858;">IP: 177.10.90.107</div><div style="position:absolute;left:889px;top:680px;width:200px;height:39px;background:#2aa41a;border-radius:4px 4px 0 0;"></div><svg style="position:absolute;left:906px;top:687px;" width="27" height="26" viewBox="0 0 27 26"><path d="M13.5 2.2 a10.8 10.8 0 1 1 -5.6 20 l-5.3 1.6 1.7 -5.1 a10.8 10.8 0 0 1 9.2 -16.5 z" fill="none" stroke="#fff" stroke-width="2"/>
<path d="M9.3 8.2 q0.8 -1 1.6 -0.2 l1.3 2.2 q0.3 0.7 -0.5 1.3 q-0.6 0.5 0 1.3 q1.4 2 3.3 3 q0.8 0.4 1.2 -0.3 q0.6 -0.9 1.4 -0.5 l2 1.1 q0.7 0.5 0.1 1.5 q-1.3 1.8 -3.6 1 q-4.6 -1.6 -7 -6.2 q-1.1 -2.5 0.2 -4.2 z" fill="#fff"/></svg><div class="t" style="left:949.00px;top:692.42px;font-size:13.2px;line-height:16px;color:#ffffff;font-weight:700;transform:scaleX(0.8510);transform-origin:left center;">Suporte WhatsApp</div><div style="position:absolute;left:1093px;top:680px;width:140px;height:39px;background:#f68a1f;border-radius:4px 4px 0 0;"></div><svg style="position:absolute;left:1110px;top:687px;" width="27" height="27" viewBox="0 0 27 27"><g fill="#fff"><path d="M24.7 1.1 L1.1 12.8 L7.4 17 L19.2 6.6 z"/><path d="M24.7 1.1 L20.2 6.2 L10.3 18.4 L18.2 23.4 z"/><path d="M8.2 20.1 L12 22.6 L9.3 24.9 z"/></g></svg><div class="t" style="left:1152.40px;top:692.42px;font-size:13.2px;line-height:16px;color:#ffffff;font-weight:700;transform:scaleX(0.8395);transform-origin:left center;">Sugestões</div>
</body></html>
